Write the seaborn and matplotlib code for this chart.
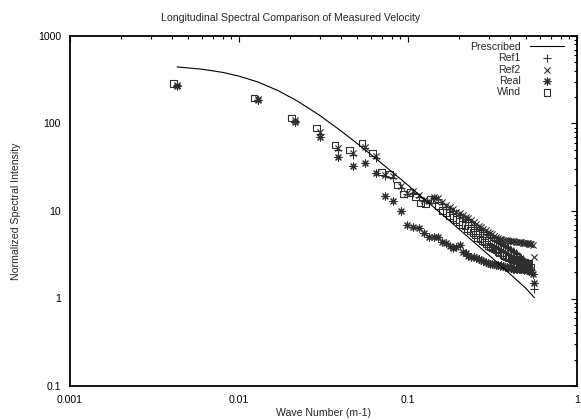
import numpy as np
import pandas as pd
import matplotlib
matplotlib.use("Agg")
import matplotlib.pyplot as plt
import seaborn as sns
from matplotlib.ticker import FixedLocator, FixedFormatter, LogLocator, NullFormatter

# ---------------- data ----------------
# prescribed spectrum
presc_k = [0.0043, 0.006, 0.008, 0.010, 0.013, 0.017, 0.022, 0.030, 0.040, 0.050,
           0.065, 0.080, 0.100, 0.130, 0.170, 0.220, 0.300, 0.400, 0.500, 0.560]
presc_s = [443, 418, 384, 348, 297, 238, 182, 124, 82.7, 59.2,
           39.3, 28.2, 19.7, 12.8, 8.2, 5.3, 3.15, 1.92, 1.3, 1.02]

# measured wave numbers: odd multiples of the base resolution
n_pts = 65
meas_k = list(0.0043 * (2 * np.arange(n_pts) + 1))
wind_k = list(0.0041 * (2 * np.arange(n_pts) + 1))

ref1 = [272, 188, 108, 76, 50, 44, 52, 40, 25, 24, 18.5, 15.5, 16, 14.6, 13, 12.5, 14, 13.6, 12,
        11.2, 10.6, 10.0, 9.4, 9.0, 8.6, 8.2, 7.8, 7.4, 7.0, 6.6, 6.3, 6.0, 5.7, 5.5, 5.3, 5.1,
        4.9, 4.7, 4.5, 4.4, 4.3, 4.2, 4.1, 4.0, 3.9, 3.8, 3.7, 3.6, 3.5, 3.4, 3.3, 3.2, 3.1, 3.0,
        2.9, 2.8, 2.7, 2.6, 2.5, 2.4, 2.3, 2.2, 2.1, 1.9, 1.3]
ref2 = [278, 192, 110, 80, 52.5, 46, 54, 42.5, 26, 25, 19.3, 16.2, 16.8, 15.2, 13.5, 13.0, 14.5, 14.2, 12.6,
        11.8, 11.2, 10.5, 9.8, 9.4, 9.0, 8.6, 8.3, 7.9, 7.5, 7.1, 6.8, 6.5, 6.2, 6.0, 5.8, 5.6,
        5.4, 5.2, 5.0, 4.9, 4.8, 4.75, 4.7, 4.7, 4.65, 4.6, 4.6, 4.55, 4.5, 4.5, 4.45, 4.45, 4.4, 4.4,
        4.4, 4.35, 4.35, 4.3, 4.3, 4.3, 4.25, 4.2, 4.2, 4.1, 3.0]
real = [268, 185, 104, 70, 41, 33, 35, 27, 14.8, 13, 10, 6.9, 6.5, 6.4, 5.6, 5.0, 5.1, 5.0, 4.4,
        4.3, 4.0, 3.8, 3.9, 4.1, 3.4, 3.3, 3.1, 3.0, 3.0, 2.9, 2.8, 2.75, 2.7, 2.6, 2.55, 2.5,
        2.5, 2.45, 2.4, 2.4, 2.35, 2.4, 2.35, 2.3, 2.3, 2.25, 2.3, 2.25, 2.2, 2.2, 2.15, 2.2, 2.2, 2.15,
        2.2, 2.15, 2.1, 2.15, 2.1, 2.1, 2.05, 2.1, 2.0, 1.9, 1.5]
wind = [285, 196, 116, 89, 57, 50, 60, 46, 28, 26.5, 19.8, 15.6, 16.2, 14.4, 12.4, 12.0, 13.6, 13.3, 11.5,
        10.2, 9.6, 8.9, 8.4, 8.0, 7.6, 7.0, 6.8, 6.3, 6.0, 5.7, 5.4, 5.0, 4.8, 4.6, 4.4, 4.2,
        4.0, 3.9, 3.8, 3.7, 3.6, 3.45, 3.35, 3.3, 3.2, 3.1, 3.0, 2.95, 2.9, 2.85, 2.8, 2.8, 2.75, 2.7,
        2.7, 2.65, 2.65, 2.6, 2.6, 2.6, 2.55, 2.55, 2.5, 2.5, 2.3]

x_ticks = [0.001, 0.01, 0.1, 1]
x_tick_labels = ["0.001", "0.01", "0.1", "1"]
y_ticks = [0.1, 1, 10, 100, 1000]
y_tick_labels = ["0.1", "1", "10", "100", "1000"]

title = "Longitudinal Spectral Comparison of Measured Velocity"
xlabel = "Wave Number (m-1)"
ylabel = "Normalized Spectral Intensity"

# ---------------- plot ----------------
sns.set_style("white")
plt.rcParams['font.family'] = ['Liberation Sans', 'DejaVu Sans']
FS = 7.6

fig = plt.figure(figsize=(5.81, 4.20), dpi=100)
ax = fig.add_axes([70 / 581, 1 - 386 / 420, (577 - 70) / 581, (386 - 36) / 420])

presc_df = pd.DataFrame({"k": presc_k, "s": presc_s})
sns.lineplot(data=presc_df, x="k", y="s", ax=ax, color="black", linewidth=0.8,
             label="Prescribed", sort=False)

mcol = "#2e2e2e"
sns.scatterplot(x=meas_k, y=ref1, ax=ax, marker="+", s=26, color=mcol, linewidth=0.8, label="Ref1")
sns.scatterplot(x=meas_k, y=ref2, ax=ax, marker="x", s=20, color=mcol, linewidth=0.8, label="Ref2")
sns.scatterplot(x=meas_k, y=real, ax=ax, marker=(8, 2, 0), s=26, color=mcol, linewidth=0.8, label="Real")
sns.scatterplot(x=wind_k, y=wind, ax=ax, marker="s", s=22, facecolor="none", edgecolor=mcol,
                linewidth=0.8, label="Wind")

ax.set_xscale("log")
ax.set_yscale("log")
ax.set_xlim(0.001, 1)
ax.set_ylim(0.1, 1000)

ax.xaxis.set_major_locator(FixedLocator(x_ticks))
ax.xaxis.set_major_formatter(FixedFormatter(x_tick_labels))
ax.yaxis.set_major_locator(FixedLocator(y_ticks))
ax.yaxis.set_major_formatter(FixedFormatter(y_tick_labels))
ax.xaxis.set_minor_locator(LogLocator(base=10, subs=np.arange(2, 10)))
ax.yaxis.set_minor_locator(LogLocator(base=10, subs=np.arange(2, 10)))
ax.xaxis.set_minor_formatter(NullFormatter())
ax.yaxis.set_minor_formatter(NullFormatter())

ax.tick_params(which="both", direction="in", top=True, right=True, colors="black",
               labelsize=FS)
ax.tick_params(axis="x", which="major", pad=6.3)
ax.tick_params(axis="y", which="major", pad=6.5)
ax.tick_params(which="major", length=4.5, width=0.8)
ax.tick_params(which="minor", length=2.5, width=0.8)
for sp in ax.spines.values():
    sp.set_visible(True)
    sp.set_color("black")
    sp.set_linewidth(1.3)

ax.set_xlabel(xlabel, fontsize=FS, labelpad=2.5)
ax.set_ylabel(ylabel, fontsize=FS, labelpad=12)
fig.text(0.5, 1 - 18 / 420, title, ha="center", va="center", fontsize=FS)

leg = ax.legend(loc="upper right", bbox_to_anchor=(1 - 13 / 507, 1 - 6 / 350),
                frameon=False, markerfirst=False, fontsize=FS,
                handlelength=3.2, handletextpad=0.9, labelspacing=0.12,
                borderaxespad=0, borderpad=0)

fig.savefig("out.png", dpi=100)
